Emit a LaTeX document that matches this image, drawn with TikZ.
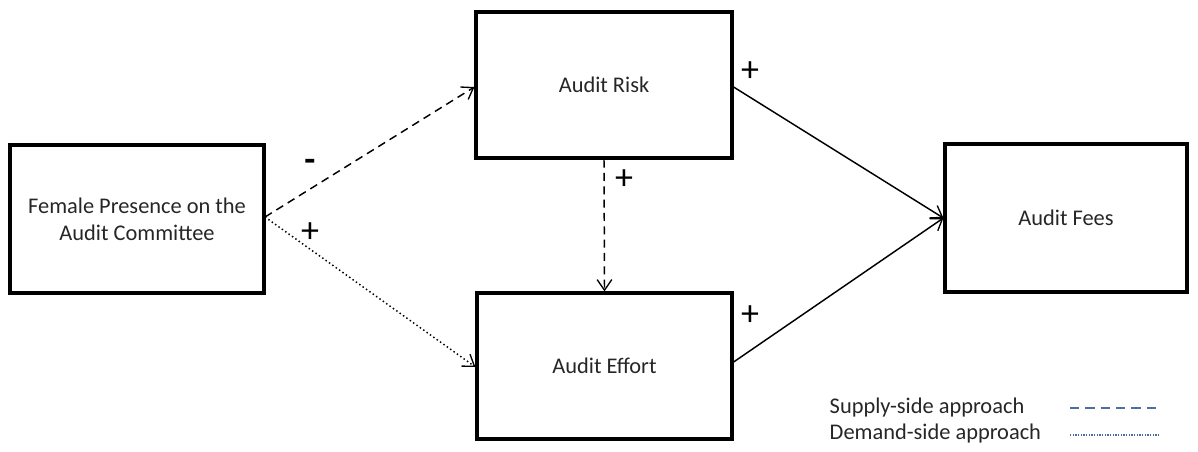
\documentclass[tikz,border=0pt]{standalone}
\usepackage{fontspec}
\setmainfont{Carlito}
\usetikzlibrary{arrows.meta}
\definecolor{legblue}{RGB}{79,110,160}
\definecolor{txt}{RGB}{38,38,38}
\begin{document}
\begin{tikzpicture}[x=0.75pt,y=-0.75pt,
  box/.style={draw,line width=2.4pt,minimum width=#1,align=center,font=\fontsize{16.8}{20}\selectfont,text=txt,inner sep=0pt},
  conn/.style={line width=1.1pt,-{Straight Barb[length=8pt,width=11pt,line width=1pt]}},
  sign/.style={font=\fontsize{27}{30}\selectfont},
  legtext/.style={font=\fontsize{16.8}{19}\selectfont,anchor=west,text=txt}]
\useasboundingbox (0,0) rectangle (1198,451);
\node[box=190.5pt,minimum height=111pt] (fem) at (137,219) {Female Presence on the\\Audit Committee};
\node[box=192pt,minimum height=109.5pt] (risk) at (604,85) {Audit Risk};
\node[box=191.25pt,minimum height=109.5pt] (eff) at (604.5,366) {Audit Effort};
\node[box=181.5pt,minimum height=111pt] (fees) at (1066,218) {Audit Fees};
\coordinate (fo) at (265,217);
\draw[conn,dashed,dash pattern=on 6pt off 4pt] (fo) -- (risk.west |- 0,87);
\draw[conn,dotted] (fo) -- (eff.west |- 0,367);
\draw[conn,dashed,dash pattern=on 6pt off 4pt] (risk.south) -- (eff.north);
\draw[conn] (risk.east |- 0,87) -- (fees.west);
\draw[conn] (eff.east |- 0,362) -- (fees.west);
\node[sign] (s1) at (310,165) {\textbf{-}};
\node[sign] (s2) at (310,233) {+};
\node[sign] (s3) at (624,180) {+};
\node[sign] (s4) at (750,72) {+};
\node[sign] (s5) at (750,316) {+};
\node[legtext] (l1) at (825,408) {Supply-side approach};
\node[legtext] (l2) at (825,434) {Demand-side approach};
\coordinate (d1a) at (1070,408);
\coordinate (d1b) at (1156,408);
\coordinate (d2a) at (1070,435);
\coordinate (d2b) at (1159,435);
\draw[legblue,line width=1.7pt,dash pattern=on 7pt off 4.5pt] (d1a) -- (d1b);
\draw[legblue,line width=1.3pt,dash pattern=on 1pt off 1pt] (d2a) -- (d2b);
\end{tikzpicture}
\end{document}
